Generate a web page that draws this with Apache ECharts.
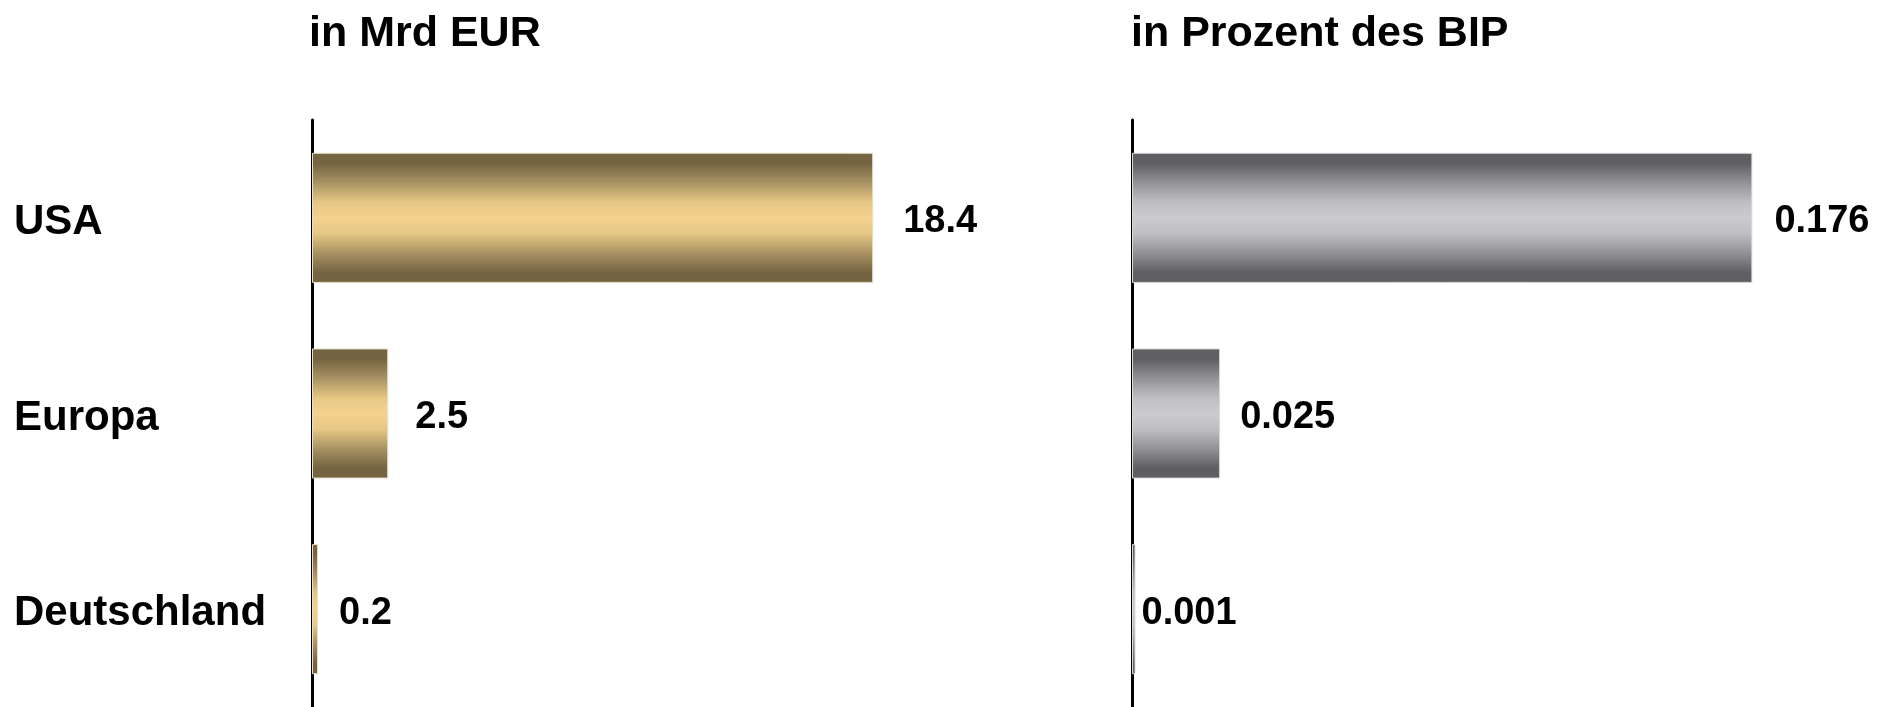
<!DOCTYPE html>
<html>
<head>
<meta charset="utf-8">
<script src="https://cdn.jsdelivr.net/npm/echarts@6/dist/echarts.min.js"></script>
<style>
  html, body { margin: 0; padding: 0; background: #fff; }
  #chart { width: 1883px; height: 707px; }
</style>
</head>
<body>
<div id="chart"></div>
<script>
// Regions compared
const categories = ['USA', 'Europa', 'Deutschland'];
// Amounts in billions of euros
const valuesEur = [18.4, 2.5, 0.2];
// Same amounts as a share of GDP (percent)
const valuesGdp = [0.176, 0.025, 0.001];
const titleEur = 'in Mrd EUR';
const titleGdp = 'in Prozent des BIP';

// Gap between bar end and its value label
const labelGapEur = [30, 27, 21];
const labelGapGdp = [22, 20, 6];

const FONT = "'Liberation Sans', Arial, Helvetica, sans-serif";

function tubeGradient(edge, mid, light) {
  return new echarts.graphic.LinearGradient(0, 0, 0, 1, [
    { offset: 0, color: edge },
    { offset: 0.08, color: edge },
    { offset: 0.22, color: mid },
    { offset: 0.38, color: light[0] },
    { offset: 0.5, color: light[1] },
    { offset: 0.62, color: light[0] },
    { offset: 0.78, color: mid },
    { offset: 0.92, color: edge },
    { offset: 1, color: edge }
  ]);
}

const gold = tubeGradient('#746441', '#a48f60', ['#e6c784', '#f3d28d']);
const silver = tubeGradient('#5f5e63', '#8f8e93', ['#bfbec3', '#cbcacf']);

function items(values, gaps) {
  return values.map((v, i) => ({ value: v, label: { distance: gaps[i] } }));
}

const valueLabel = {
  show: true,
  position: 'right',
  offset: [0, 4],
  color: '#000',
  fontFamily: FONT,
  fontWeight: 'bold',
  fontSize: 38
};

const titleStyle = { fontFamily: FONT, fontWeight: 'bold', fontSize: 43, color: '#000' };

const chart = echarts.init(document.getElementById('chart'), null, { renderer: 'canvas' });

chart.setOption({
  backgroundColor: '#fff',
  animation: false,
  title: [
    { text: titleEur, left: 309, top: 13, padding: 0, textStyle: titleStyle },
    { text: titleGdp, left: 1131, top: 13, padding: 0, textStyle: titleStyle }
  ],
  grid: [
    { left: 312, top: 120, width: 610, height: 587 },
    { left: 1132, top: 120, width: 705, height: 587 }
  ],
  xAxis: [
    { gridIndex: 0, type: 'value', min: 0, max: 20, show: false },
    { gridIndex: 1, type: 'value', min: 0, max: 0.2, show: false }
  ],
  yAxis: [
    {
      gridIndex: 0, type: 'category', data: categories, inverse: true,
      axisLine: { show: true, lineStyle: { color: '#000', width: 3 } },
      axisTick: { show: false },
      splitLine: { show: false },
      axisLabel: {
        align: 'left', margin: 298, color: '#000',
        fontFamily: FONT, fontWeight: 'bold', fontSize: 42,
        formatter: v => '{c|' + v + '}',
        rich: {
          c: {
            fontFamily: FONT, fontWeight: 'bold', fontSize: 42, color: '#000',
            padding: [9, 0, 0, 0]
          }
        }
      }
    },
    {
      gridIndex: 1, type: 'category', data: categories, inverse: true,
      axisLine: { show: true, lineStyle: { color: '#000', width: 3 } },
      axisTick: { show: false },
      splitLine: { show: false },
      axisLabel: { show: false }
    }
  ],
  series: [
    {
      type: 'bar', xAxisIndex: 0, yAxisIndex: 0,
      data: items(valuesEur, labelGapEur),
      barWidth: '66.5%',
      itemStyle: { color: gold, borderColor: '#e8e0cc', borderWidth: 1 },
      label: valueLabel,
      z: 1
    },
    {
      type: 'bar', xAxisIndex: 1, yAxisIndex: 1,
      data: items(valuesGdp, labelGapGdp),
      barWidth: '66.5%',
      itemStyle: { color: silver, borderColor: '#dcdcdc', borderWidth: 1 },
      label: valueLabel,
      z: 1
    }
  ]
});
</script>
</body>
</html>
